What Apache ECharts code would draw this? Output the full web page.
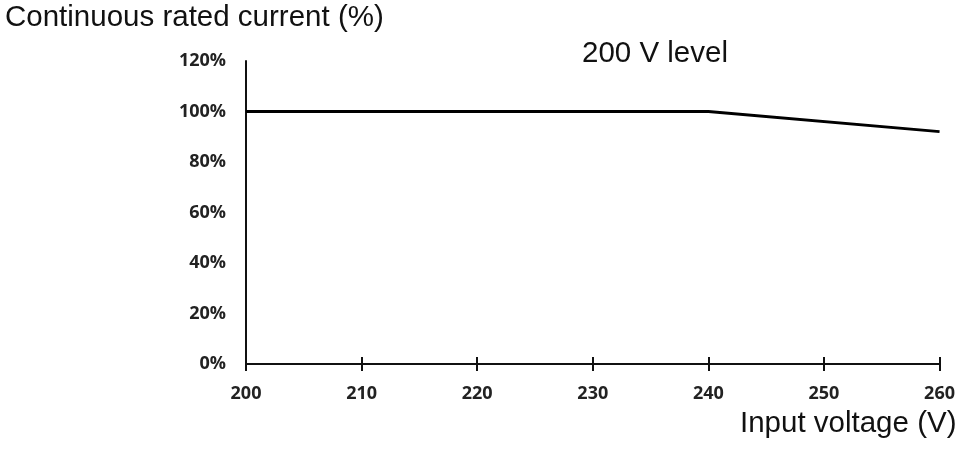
<!DOCTYPE html>
<html>
<head>
<meta charset="utf-8">
<script src="https://cdn.jsdelivr.net/npm/echarts@6/dist/echarts.min.js"></script>
<style>
  html, body { margin: 0; padding: 0; background: #fff; }
  #chart { width: 958px; height: 450px; }
</style>
</head>
<body>
<div id="chart"></div>
<script>
  // data
  var voltage = [200, 240, 260];
  var current = [100, 100, 92];
  var xTicks = [200, 210, 220, 230, 240, 250, 260];
  var yTicks = [0, 20, 40, 60, 80, 100, 120];

  var points = voltage.map(function (v, i) { return [v, current[i]]; });

  var chart = echarts.init(document.getElementById('chart'));

  var tickFont = { color: '#222', fontFamily: 'Open Sans', fontWeight: 'bold', fontSize: 18 };

  function label(text, x, y) {
    return {
      type: 'text', left: x, top: y,
      style: {
        text: text, fill: '#111',
        font: '29.5px "Liberation Sans", Arial, sans-serif'
      }
    };
  }

  chart.setOption({
    animation: false,
    grid: { left: 246, right: 18, top: 61, bottom: 86 },
    graphic: [
      label('Continuous rated current (%)', 5, 3),
      label('200 V level', 582, 39),
      label('Input voltage (V)', 740, 409)
    ],
    xAxis: [
      {
        type: 'value',
        min: xTicks[0], max: xTicks[xTicks.length - 1], interval: 10,
        axisLine: { lineStyle: { color: '#111', width: 2 } },
        axisTick: { show: true, length: 7, lineStyle: { color: '#111', width: 2 } },
        axisLabel: Object.assign({ margin: 21 }, tickFont),
        splitLine: { show: false }
      },
      {
        type: 'value', position: 'bottom',
        min: xTicks[0], max: xTicks[xTicks.length - 1], interval: 10,
        axisLine: { show: false },
        axisTick: { show: true, inside: true, length: 7, lineStyle: { color: '#111', width: 2 } },
        axisLabel: { show: false },
        splitLine: { show: false }
      }
    ],
    yAxis: {
      type: 'value',
      min: yTicks[0], max: yTicks[yTicks.length - 1], interval: 20,
      axisLine: { show: true, lineStyle: { color: '#111', width: 2 } },
      axisTick: { show: false },
      axisLabel: Object.assign({ margin: 20, formatter: '{value}%' }, tickFont),
      splitLine: { show: false }
    },
    series: [
      {
        type: 'line',
        data: points,
        symbol: 'none',
        lineStyle: { color: '#000', width: 2.8 }
      }
    ]
  });
</script>
</body>
</html>
